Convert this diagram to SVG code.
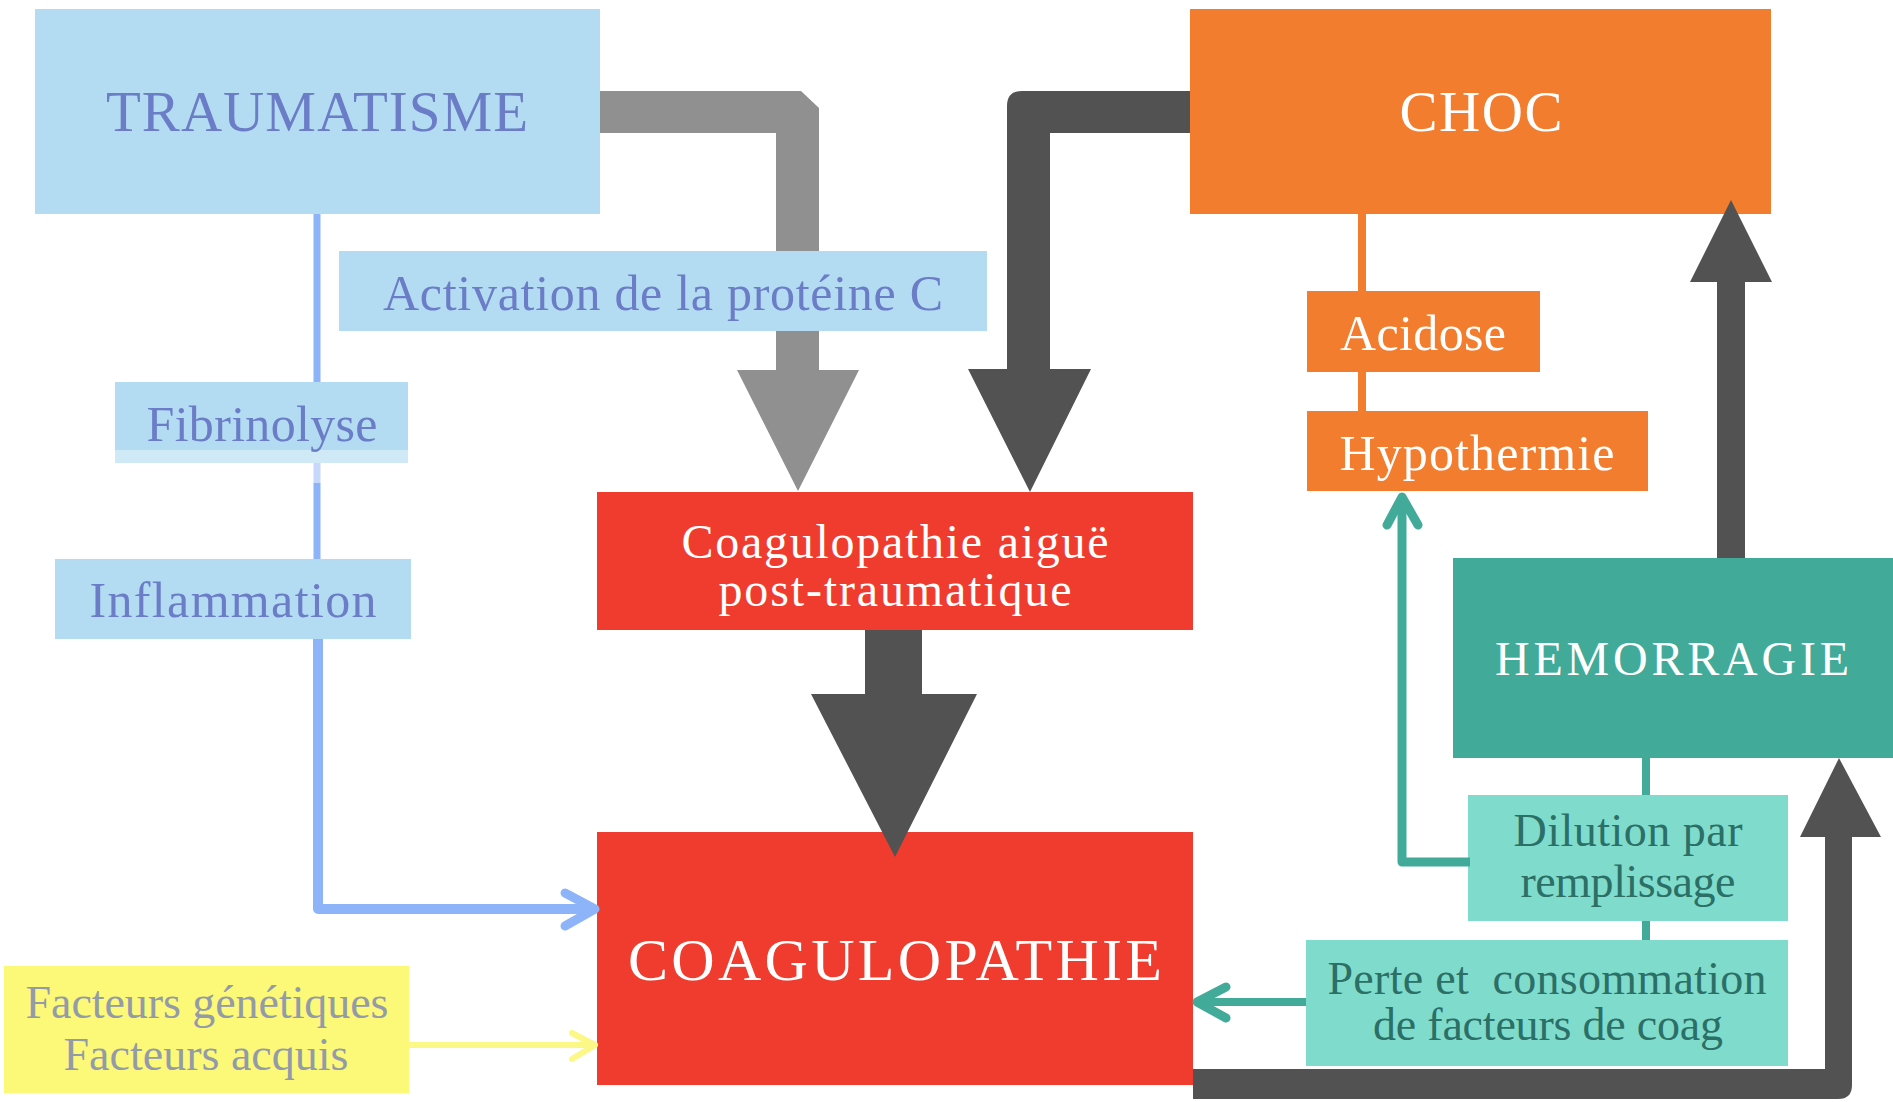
<svg xmlns="http://www.w3.org/2000/svg" width="1893" height="1102" viewBox="0 0 1893 1102">
<style>
text{font-family:"Liberation Serif","Times New Roman",serif;text-anchor:middle;white-space:pre}
.lb{fill:#b3dcf3}
.tb{fill:#6b7dc6}
.tw{fill:#ffffff}
.tt{fill:#2b6f66}
.ty{fill:#939ba8}
.dark{fill:#525252}
.gray{fill:#909090}
.ln{fill:none;stroke-linecap:butt;stroke-linejoin:round}
.chev{fill:none;stroke-linecap:round;stroke-linejoin:round}
</style>
<rect width="1893" height="1102" fill="#ffffff"/>

<g id="traumatisme">
<rect class="lb" x="35" y="9" width="565" height="205"/>
<text class="tb" x="317" y="131" font-size="57" textLength="422">TRAUMATISME</text>
</g>
<g id="activation">
<rect class="lb" x="339" y="251" width="648" height="80"/>
<text class="tb" x="663" y="310" font-size="50" textLength="560">Activation de la protéine C</text>
</g>
<g id="fibrinolyse">
<rect class="lb" x="115" y="382" width="293" height="68"/>
<rect fill="#d0e9f6" x="115" y="450" width="293" height="13"/>
<text class="tb" x="262" y="441" font-size="50" textLength="231">Fibrinolyse</text>
</g>
<g id="inflammation">
<rect class="lb" x="55" y="559" width="356" height="80"/>
<text class="tb" x="233" y="617" font-size="50" textLength="287">Inflammation</text>
</g>
<g id="facteurs">
<rect fill="#fcf878" x="4" y="966" width="405" height="127"/>
<text class="ty" x="207" y="1018" font-size="46" textLength="363">Facteurs génétiques</text>
<text class="ty" x="206" y="1070" font-size="46" textLength="285">Facteurs acquis</text>
</g>
<g id="choc">
<rect fill="#f37d2f" x="1190" y="9" width="581" height="205"/>
<text class="tw" x="1481" y="131" font-size="57" textLength="163">CHOC</text>
</g>
<g id="acidose">
<rect fill="#f37d2f" x="1307" y="291" width="233" height="81"/>
<text class="tw" x="1423" y="350" font-size="50" textLength="166">Acidose</text>
</g>
<g id="hypothermie">
<rect fill="#f37d2f" x="1307" y="411" width="341" height="80"/>
<text class="tw" x="1477" y="470" font-size="50" textLength="275">Hypothermie</text>
</g>
<g id="coag-aigue">
<rect fill="#f03c2e" x="597" y="492" width="596" height="138"/>
<text class="tw" x="895" y="558" font-size="48" textLength="427">Coagulopathie aiguë</text>
<text class="tw" x="895" y="606" font-size="48" textLength="353">post-traumatique</text>
</g>
<g id="coagulopathie">
<rect fill="#f03c2e" x="597" y="832" width="596" height="253"/>
<text class="tw" x="895" y="980" font-size="60" textLength="534">COAGULOPATHIE</text>
</g>
<g id="hemorragie">
<rect fill="#42aa99" x="1453" y="558" width="440" height="200"/>
<text class="tw" x="1672" y="675" font-size="48" textLength="354">HEMORRAGIE</text>
</g>
<g id="dilution">
<rect fill="#7fdccc" x="1468" y="795" width="320" height="126"/>
<text class="tt" x="1628" y="846" font-size="46" textLength="229">Dilution par</text>
<text class="tt" x="1628" y="897" font-size="46" textLength="215">remplissage</text>
</g>
<g id="perte">
<rect fill="#7fdccc" x="1306" y="940" width="482" height="126"/>
<text class="tt" x="1547" y="994" font-size="46" textLength="439">Perte et  consommation</text>
<text class="tt" x="1548" y="1040" font-size="46" textLength="350">de facteurs de coag</text>
</g>

<g id="connectors">
<path class="gray" d="M600,91 H801 L819,108 V251 H776 V133 H600 Z"/>
<path class="gray" d="M776,331 H819 V370 H859 L798,491 L737,370 H776 Z"/>
<path class="dark" d="M1190,91 V133 H1050 V369 H1091 L1030,492 L968,369 H1007 V106 Q1007,91 1022,91 Z"/>
<path class="dark" d="M865,630 H922 V694 H977 L895,857 L811,694 H865 Z"/>
<path class="dark" d="M1717,558 V282 H1690 L1731,200 L1772,282 H1745 V558 Z"/>
<path class="dark" d="M1193,1069 H1825 V837 H1800 L1839,758 L1881,837 H1852 V1085 Q1852,1099 1838,1099 H1193 Z"/>
<line x1="317" y1="214" x2="317" y2="382" stroke="#8db3f9" stroke-width="7"/>
<line x1="317" y1="463" x2="317" y2="483" stroke="#c6d9fb" stroke-width="7"/>
<line x1="317" y1="483" x2="317" y2="559" stroke="#8db3f9" stroke-width="7"/>
<path class="ln" d="M318,639 V909 H595" stroke="#8db3f9" stroke-width="10"/>
<path class="chev" d="M565,893 L595,909 L565,926" stroke="#8db3f9" stroke-width="9"/>
<line x1="409" y1="1045" x2="594" y2="1045" stroke="#fbf887" stroke-width="6"/>
<path class="chev" d="M572,1033 L595,1045 L572,1059" stroke="#fbf887" stroke-width="6"/>
<line x1="1362" y1="214" x2="1362" y2="291" stroke="#f37d2f" stroke-width="8"/>
<line x1="1362" y1="372" x2="1362" y2="411" stroke="#f37d2f" stroke-width="8"/>
<line x1="1646" y1="758" x2="1646" y2="795" stroke="#42aa99" stroke-width="8"/>
<line x1="1646" y1="921" x2="1646" y2="940" stroke="#42aa99" stroke-width="8"/>
<path class="ln" d="M1470,862 H1402 V497" stroke="#42aa99" stroke-width="9"/>
<path class="chev" d="M1387,525 L1402,497 L1418,525" stroke="#42aa99" stroke-width="9"/>
<line x1="1306" y1="1002" x2="1197" y2="1002" stroke="#42aa99" stroke-width="8"/>
<path class="chev" d="M1226,987 L1197,1002 L1226,1018" stroke="#42aa99" stroke-width="9"/>
</g>
</svg>
